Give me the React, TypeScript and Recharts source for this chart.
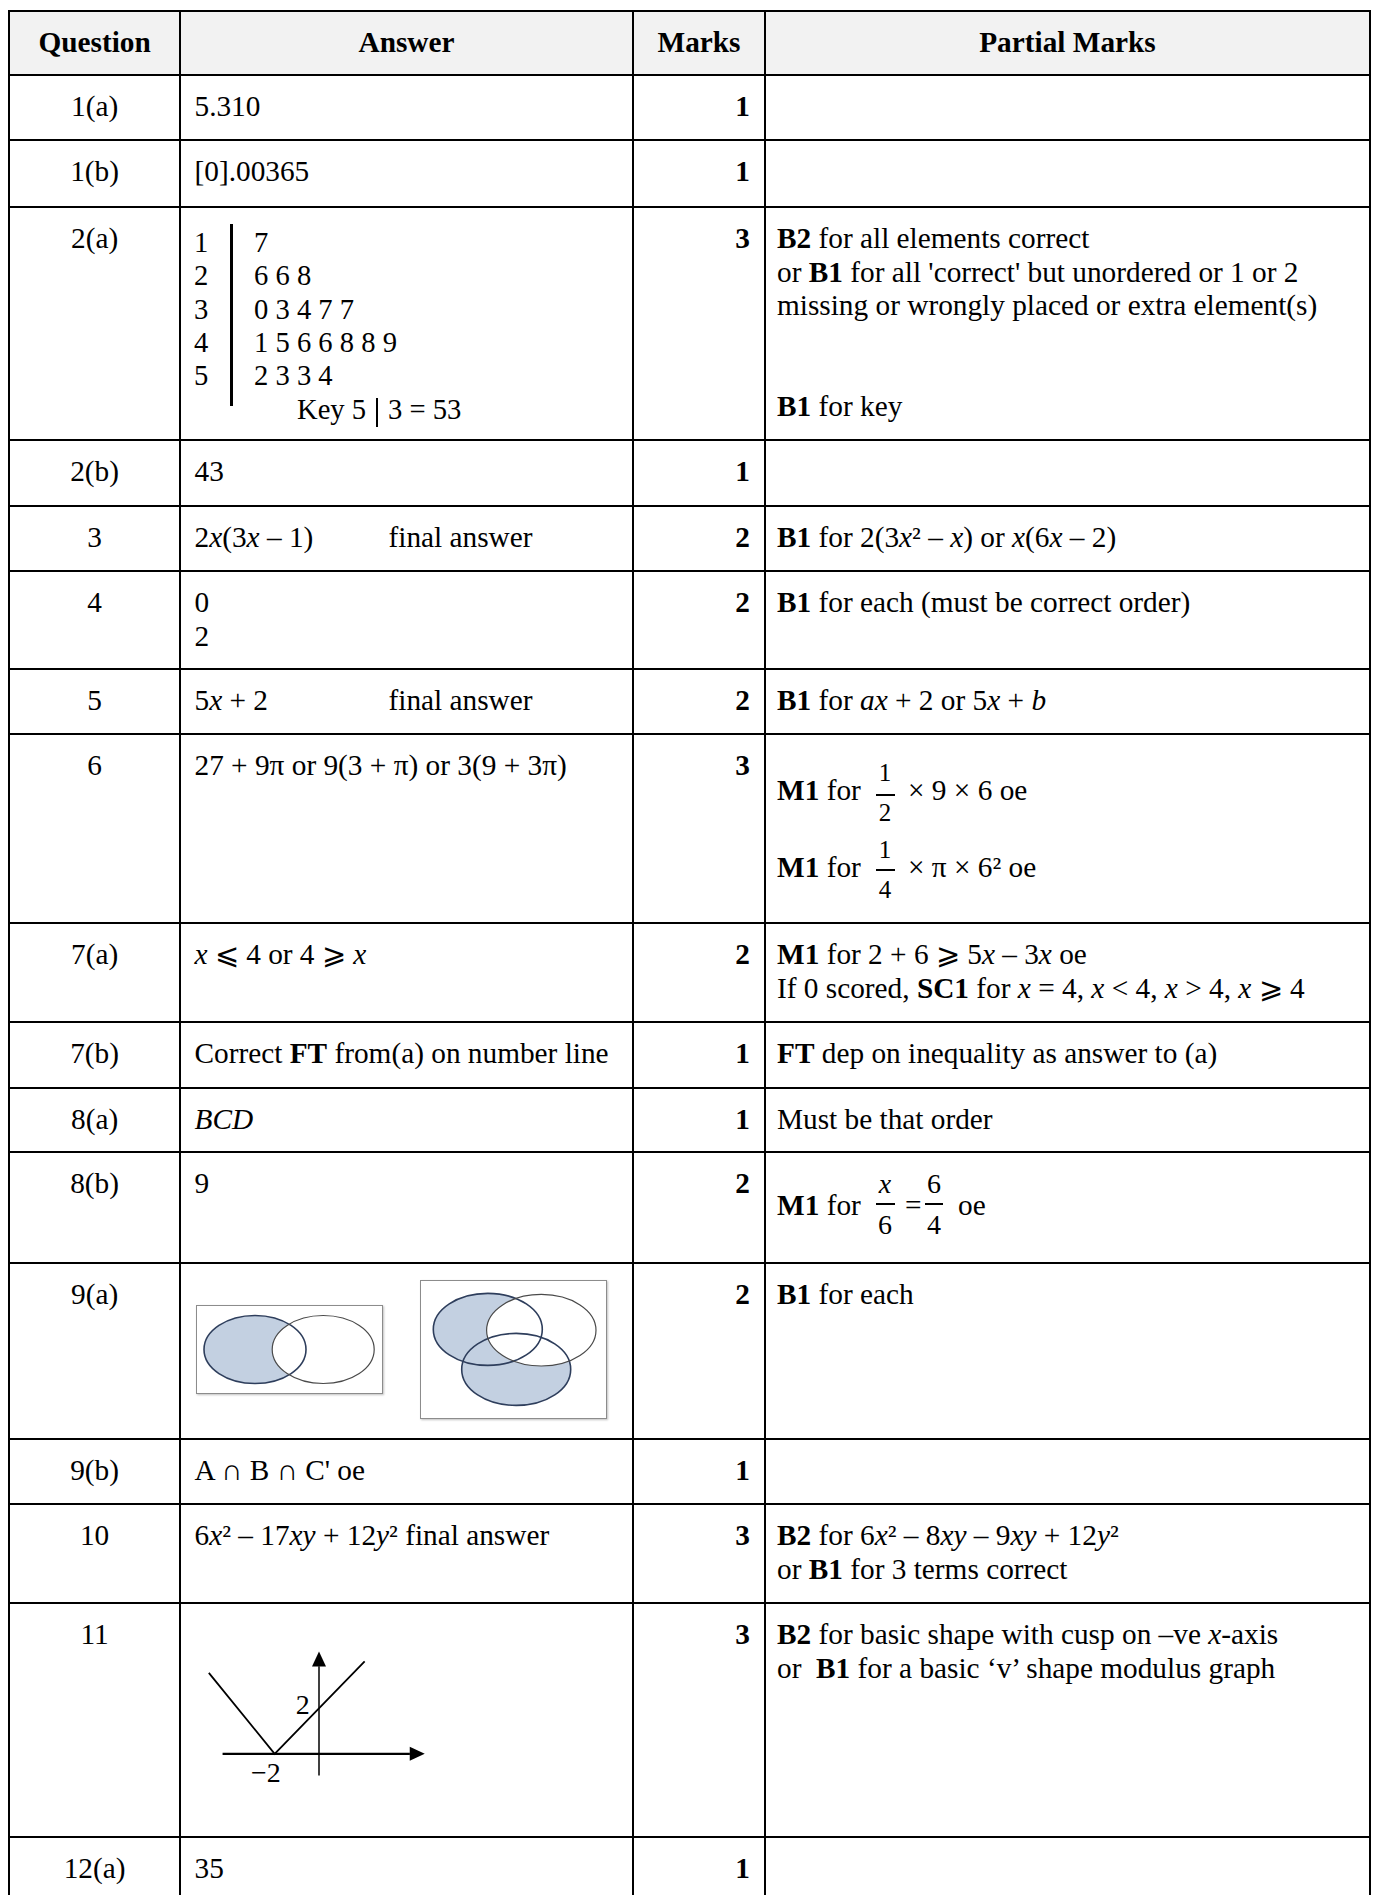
import React from "react";
import { ComposedChart, Line, Scatter, ScatterChart, XAxis, YAxis } from "recharts";

const FONT = '"Liberation Serif", "Times New Roman", "DejaVu Serif", serif';
const FS = 29.3;

// ---- table content ----
const headers = ["Question", "Answer", "Marks", "Partial Marks"];
const questions = ["1(a)", "1(b)", "2(a)", "2(b)", "3", "4", "5", "6", "7(a)", "7(b)", "8(a)", "8(b)", "9(a)", "9(b)", "10", "11", "12(a)"];
const marks = [1, 1, 3, 1, 2, 2, 2, 3, 2, 1, 1, 2, 2, 1, 3, 3, 1];

// stem and leaf answer for 2(a)
const stems = ["1", "2", "3", "4", "5"];
const leaves = ["7", "6 6 8", "0 3 4 7 7", "1 5 6 6 8 8 9", "2 3 3 4"];
const keyStem = "5";
const keyLeaf = "3";
const keyValue = "53";

// venn diagrams for 9(a): centres and radii in box pixels
const vennTwo = [
  { set: "A", px: 59, py: 45.5, rx: 51, ry: 34, shaded: true },
  { set: "B", px: 127.2, py: 45.5, rx: 51, ry: 34, shaded: false },
];
const vennThree = [
  { set: "A", px: 67.8, py: 49.4, rx: 54.5, ry: 36, shaded: true },
  { set: "C", px: 96.2, py: 89.4, rx: 54.5, ry: 36, shaded: true },
  { set: "B", px: 121.3, py: 50.2, rx: 54.7, ry: 35.8, shaded: false },
];

// sketch of y = |x + 2| for 11
const modulusGraph = [
  { x: -4.97, y: 3.59 },
  { x: -2, y: 0 },
  { x: 2.06, y: 4.1 },
];
const xAxisLine = [
  { x: -4.35, y: 0 },
  { x: 4.1, y: 0 },
];
const yAxisLine = [
  { x: 0, y: -0.96 },
  { x: 0, y: 3.88 },
];
const arrowHeads = [
  { x: 4.77, y: 0, dir: "right" },
  { x: 0, y: 4.53, dir: "up" },
];
const graphLabels = [
  { x: -0.42, y: 1.77, text: "2", anchor: "end" },
  { x: -2.4, y: -1.24, text: "\u22122", anchor: "middle" },
];

// ---- layout (line centres) ----
const X = [9.2, 180, 633, 765, 1370];
const Y = [10.8, 75, 140, 207, 440, 506, 571, 669, 734, 923, 1022, 1088, 1152, 1263, 1439, 1504, 1603, 1837, 1912];
const LW = 2;
const PAD_T = 15;
const LH = 33.5;

const I = ({ children }: { children: React.ReactNode }) => <i>{children}</i>;
const B = ({ children }: { children: React.ReactNode }) => <b>{children}</b>;

// fraction hung from the baseline of its line; offsets are relative to that baseline
type FracProps = { n: React.ReactNode; d: React.ReactNode; left: number; w: number; fs: number; nb: number; bar: number; db: number };
const Frac = ({ n, d, left, w, fs, nb, bar, db }: FracProps) => {
  const base = 0.8375 * fs;
  return (
    <span style={{ position: "absolute", left: left - w / 2, top: 0, width: w, height: 0, fontSize: fs }}>
      <span style={{ position: "absolute", left: -6, right: -6, top: 26.5 + nb - base, lineHeight: `${fs}px`, textAlign: "center" }}>{n}</span>
      <span style={{ position: "absolute", left: 0, right: 0, top: 26.5 + bar - 0.75, height: 1.5, background: "#000" }} />
      <span style={{ position: "absolute", left: -6, right: -6, top: 26.5 + db - base, lineHeight: `${fs}px`, textAlign: "center" }}>{d}</span>
    </span>
  );
};

const At = ({ left, children }: { left: number; children: React.ReactNode }) => (
  <span style={{ position: "absolute", left, top: 0 }}>{children}</span>
);

const FinalAnswer = () => (
  <span style={{ position: "absolute", left: 207.5, top: 0 }}>final answer</span>
);

const answers: React.ReactNode[] = [
  "5.310",
  "[0].00365",
  null,
  "43",
  <>2<I>x</I>(3<I>x</I> – 1)<FinalAnswer /></>,
  <>0<br />2</>,
  <>5<I>x</I> + 2<FinalAnswer /></>,
  "27 + 9π or 9(3 + π) or 3(9 + 3π)",
  <><I>x</I> ⩽ 4 or 4 ⩾ <I>x</I></>,
  <>Correct <B>FT</B> from(a) on number line</>,
  <I>BCD</I>,
  "9",
  null,
  "A ∩ B ∩ C' oe",
  <>6<I>x</I>² – 17<I>xy</I> + 12<I>y</I>² final answer</>,
  null,
  "35",
];

const partials: React.ReactNode[] = [
  null,
  null,
  <>
    <B>B2</B> for all elements correct<br />
    or <B>B1</B> for all 'correct' but unordered or 1 or 2<br />
    missing or wrongly placed or extra element(s)<br />
    <br />
    <br />
    <B>B1</B> for key
  </>,
  null,
  <><B>B1</B> for 2(3<I>x</I>² – <I>x</I>) or <I>x</I>(6<I>x</I> – 2)</>,
  <><B>B1</B> for each (must be correct order)</>,
  <><B>B1</B> for <I>ax</I> + 2 or 5<I>x</I> + <I>b</I></>,
  null,
  <>
    <B>M1</B> for 2 + 6 ⩾ 5<I>x</I> – 3<I>x</I> oe<br />
    If 0 scored, <B>SC1</B> for <I>x</I> = 4, <I>x</I> &lt; 4, <I>x</I> &gt; 4, <I>x</I> ⩾ 4
  </>,
  <><B>FT</B> dep on inequality as answer to (a)</>,
  "Must be that order",
  null,
  <><B>B1</B> for each</>,
  null,
  <>
    <B>B2</B> for 6<I>x</I>² – 8<I>xy</I> – 9<I>xy</I> + 12<I>y</I>²<br />
    or <B>B1</B> for 3 terms correct
  </>,
  <>
    <B>B2</B> for basic shape with cusp on –ve <I>x</I>-axis<br />
    or&nbsp; <B>B1</B> for a basic ‘v’ shape modulus graph
  </>,
  null,
];

const VennShape = (mode: "fill" | "stroke") => (props: any) => {
  const { cx, cy, payload } = props;
  if (mode === "fill") {
    return <ellipse cx={cx} cy={cy} rx={payload.rx} ry={payload.ry} fill={payload.shaded ? "#c3d0e1" : "#ffffff"} stroke="none" />;
  }
  return (
    <ellipse
      cx={cx}
      cy={cy}
      rx={payload.rx}
      ry={payload.ry}
      fill="none"
      stroke={payload.shaded ? "#2e3e5c" : "#4a4a4a"}
      strokeWidth={payload.shaded ? 1.6 : 1.2}
    />
  );
};

const VennBox = ({ data, left, top, width, height }: { data: typeof vennTwo; left: number; top: number; width: number; height: number }) => (
  <div
    style={{
      position: "absolute",
      left,
      top,
      width,
      height,
      boxSizing: "border-box",
      border: "1.5px solid #8c8c8c",
      boxShadow: "1px 1px 2px rgba(0,0,0,0.25)",
      background: "#fff",
    }}
  >
    <div style={{ position: "absolute", left: -1.5, top: -1.5 }}>
      <ScatterChart width={width} height={height} margin={{ top: 0, right: 0, bottom: 0, left: 0 }}>
        <XAxis type="number" dataKey="px" domain={[0, width]} hide allowDataOverflow />
        <YAxis type="number" dataKey="py" domain={[0, height]} reversed hide allowDataOverflow />
        <Scatter data={data} shape={VennShape("fill")} isAnimationActive={false} />
        <Scatter data={data} shape={VennShape("stroke")} isAnimationActive={false} />
      </ScatterChart>
    </div>
  </div>
);

const ArrowHead = (props: any) => {
  const { cx, cy, payload } = props;
  const pts =
    payload.dir === "right"
      ? `${cx},${cy} ${cx - 15},${cy - 7} ${cx - 15},${cy + 7}`
      : `${cx},${cy} ${cx - 7},${cy + 15} ${cx + 7},${cy + 15}`;
  return <polygon points={pts} fill="#000" />;
};

const GraphLabel = (props: any) => {
  const { cx, cy, payload } = props;
  return (
    <text x={cx} y={cy} textAnchor={payload.anchor} fontSize={28} fontFamily={FONT} fill="#000">
      {payload.text}
    </text>
  );
};

const ModulusSketch = () => (
  <div style={{ position: "absolute", left: 186.4, top: 1640.5 }}>
    <ComposedChart width={266} height={158} margin={{ top: 0, right: 0, bottom: 0, left: 0 }}>
      <XAxis type="number" dataKey="x" domain={[-6, 6]} hide allowDataOverflow />
      <YAxis type="number" dataKey="y" domain={[-2, 5]} hide allowDataOverflow />
      <Line data={xAxisLine} dataKey="y" stroke="#000" strokeWidth={2.2} dot={false} isAnimationActive={false} />
      <Line data={yAxisLine} dataKey="y" stroke="#000" strokeWidth={1.5} dot={false} isAnimationActive={false} />
      <Line data={modulusGraph} dataKey="y" type="linear" stroke="#000" strokeWidth={1.8} dot={false} isAnimationActive={false} />
      <Scatter data={arrowHeads} dataKey="y" shape={ArrowHead} isAnimationActive={false} />
      <Scatter data={graphLabels} dataKey="y" shape={GraphLabel} isAnimationActive={false} />
    </ComposedChart>
  </div>
);

const StemLeaf = () => {
  const top0 = 226;
  const fs = 28.6;
  return (
    <div style={{ fontSize: fs }}>
      {stems.map((s, i) => (
        <div key={"s" + i} style={{ position: "absolute", left: 194, top: top0 + i * 33.3, lineHeight: "34px" }}>{s}</div>
      ))}
      {leaves.map((l, i) => (
        <div key={"l" + i} style={{ position: "absolute", left: 254, top: top0 + i * 33.3, lineHeight: "34px", whiteSpace: "pre" }}>{l}</div>
      ))}
      <div style={{ position: "absolute", left: 230, top: 224, width: 2.6, height: 182, background: "#000" }} />
      <div style={{ position: "absolute", left: 297, top: top0 + 5 * 33.3, lineHeight: "34px", whiteSpace: "pre" }}>{`Key ${keyStem}`}</div>
      <div style={{ position: "absolute", left: 376, top: 398, width: 2.4, height: 29, background: "#000" }} />
      <div style={{ position: "absolute", left: 388, top: top0 + 5 * 33.3, lineHeight: "34px", whiteSpace: "pre" }}>{`${keyLeaf} = ${keyValue}`}</div>
    </div>
  );
};

// method lines: div top is set so that the text baseline sits 26.5px below it
const MethodLine = ({ baseline, children }: { baseline: number; children: React.ReactNode }) => (
  <div style={{ position: "absolute", left: 777, top: baseline - 26.5, width: 400, height: 34, lineHeight: "34px", whiteSpace: "nowrap" }}>
    {children}
  </div>
);

const Row6Method = () => (
  <>
    <MethodLine baseline={799}>
      <B>M1</B> for
      <Frac n="1" d="2" left={108} w={19} fs={25} nb={-18.3} bar={-4} db={22} />
      <At left={131}>× 9 × 6 oe</At>
    </MethodLine>
    <MethodLine baseline={876}>
      <B>M1</B> for
      <Frac n="1" d="4" left={108} w={19} fs={25} nb={-18.3} bar={-6} db={22} />
      <At left={131}>× π × 6² oe</At>
    </MethodLine>
  </>
);

const Row8bMethod = () => (
  <MethodLine baseline={1214}>
    <B>M1</B> for
    <Frac n={<I>x</I>} d="6" left={108} w={19} fs={28} nb={-21} bar={-10} db={20} />
    <At left={128}>=</At>
    <Frac n="6" d="4" left={157} w={18} fs={28} nb={-21} bar={-10} db={20} />
    <At left={181}>oe</At>
  </MethodLine>
);

export default function App() {
  return (
    <div
      style={{
        position: "absolute",
        left: 0,
        top: 0,
        width: 1375,
        height: 1895,
        overflow: "hidden",
        background: "#fff",
        fontFamily: FONT,
        fontSize: FS,
        color: "#000",
      }}
    >
      {/* header background */}
      <div style={{ position: "absolute", left: X[0], top: Y[0], width: X[4] - X[0], height: Y[1] - Y[0], background: "#f2f2f2" }} />
      {headers.map((h, c) => (
        <div
          key={"h" + c}
          style={{
            position: "absolute",
            left: X[c],
            top: Y[0],
            width: X[c + 1] - X[c],
            height: Y[1] - Y[0],
            display: "flex",
            alignItems: "center",
            justifyContent: "center",
            fontWeight: "bold",
          }}
        >
          {h}
        </div>
      ))}

      {questions.map((q, i) => {
        const r = i + 1;
        const top = Y[r] + PAD_T;
        return (
          <React.Fragment key={q}>
            <div style={{ position: "absolute", left: X[0], top, width: X[1] - X[0], textAlign: "center", lineHeight: `${LH}px` }}>{q}</div>
            {answers[i] !== null && (
              <div style={{ position: "absolute", left: X[1] + 1, top, paddingLeft: 13.5, lineHeight: `${LH}px`, whiteSpace: "nowrap" }}>
                {answers[i]}
              </div>
            )}
            <div
              style={{
                position: "absolute",
                left: X[2],
                top,
                width: X[3] - X[2] - 15,
                textAlign: "right",
                fontWeight: "bold",
                lineHeight: `${LH}px`,
              }}
            >
              {marks[i]}
            </div>
            {partials[i] !== null && (
              <div style={{ position: "absolute", left: X[3] + 1, top, paddingLeft: 11, lineHeight: `${LH}px`, whiteSpace: "nowrap" }}>
                {partials[i]}
              </div>
            )}
          </React.Fragment>
        );
      })}

      <StemLeaf />
      <Row6Method />
      <Row8bMethod />
      <VennBox data={vennTwo} left={196} top={1304.7} width={187} height={89} />
      <VennBox data={vennThree} left={420} top={1280.3} width={187.3} height={138.7} />
      <ModulusSketch />

      {/* grid lines */}
      {X.map((x, k) => (
        <div key={"vx" + k} style={{ position: "absolute", left: x - LW / 2, top: Y[0] - LW / 2, width: LW, height: Y[Y.length - 1] - Y[0], background: "#000" }} />
      ))}
      {Y.map((y, k) => (
        <div key={"hy" + k} style={{ position: "absolute", left: X[0] - LW / 2, top: y - LW / 2, width: X[4] - X[0] + LW, height: LW, background: "#000" }} />
      ))}
    </div>
  );
}
